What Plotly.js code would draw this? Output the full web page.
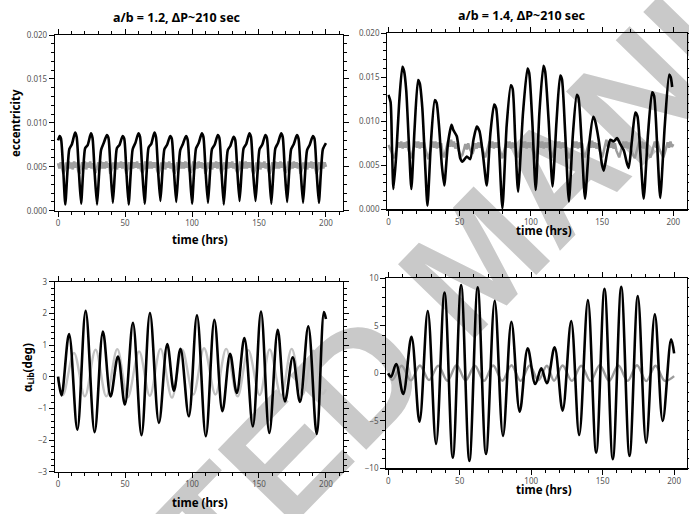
<!DOCTYPE html>
<html>
<head>
<meta charset="utf-8">
<script src="https://cdn.plot.ly/plotly-3.0.1.min.js"></script>
<style>html,body{margin:0;padding:0;background:#fff;}#chart{width:689px;height:514px;}</style>
</head>
<body>
<div id="chart"></div>
<script>
// ---------- Panel 1: a/b = 1.2, eccentricity ----------
const t1Black = [0,1.2,2.2,3.9,
 5.4,6.9,8.4,10.4,12.7,13.9,15.6,
 17.2,18.7,20.2,22.2,24.5,25.7,27.4,
 29.1,30.6,32.1,34.1,36.4,37.6,39.3,
 40.9,42.4,43.9,45.9,48.2,49.4,51.1,
 52.7,54.2,55.7,57.7,60.0,61.2,62.9,
 64.6,66.1,67.6,69.6,71.9,73.1,74.8,
 76.4,77.9,79.4,81.4,83.7,84.9,86.6,
 88.2,89.7,91.2,93.2,95.5,96.7,98.4,
 100.0,101.5,103.0,105.0,107.3,108.5,110.2,
 111.9,113.4,114.9,116.9,119.2,120.4,122.1,
 123.7,125.2,126.7,128.7,131.0,132.2,133.9,
 135.5,137.0,138.5,140.5,142.8,144.0,145.7,
 147.4,148.9,150.4,152.4,154.7,155.9,157.6,
 159.2,160.7,162.2,164.2,166.5,167.7,169.4,
 171.0,172.5,174.0,176.0,178.3,179.5,181.2,
 182.9,184.4,185.9,187.9,190.2,191.4,193.1,
 194.7,196.2,197.7,200.0];
const e1Black = [0.0080,0.0085,0.0082,0.0045,
 0.0007,0.0042,0.0070,0.0076,0.0089,0.0084,0.0043,
 0.0008,0.0044,0.0071,0.0075,0.0088,0.0083,0.0041,
 0.0007,0.0041,0.0069,0.0077,0.0086,0.0083,0.0043,
 0.0009,0.0043,0.0071,0.0075,0.0085,0.0082,0.0042,
 0.0007,0.0042,0.0070,0.0077,0.0088,0.0084,0.0044,
 0.0008,0.0043,0.0072,0.0076,0.0089,0.0084,0.0042,
 0.0011,0.0044,0.0070,0.0075,0.0085,0.0082,0.0043,
 0.0010,0.0042,0.0069,0.0076,0.0085,0.0081,0.0042,
 0.0008,0.0043,0.0071,0.0077,0.0088,0.0084,0.0043,
 0.0009,0.0042,0.0070,0.0075,0.0086,0.0083,0.0042,
 0.0007,0.0041,0.0069,0.0074,0.0084,0.0081,0.0043,
 0.0011,0.0044,0.0071,0.0076,0.0088,0.0084,0.0042,
 0.0011,0.0043,0.0070,0.0075,0.0086,0.0083,0.0043,
 0.0008,0.0042,0.0071,0.0077,0.0088,0.0084,0.0042,
 0.0010,0.0043,0.0070,0.0076,0.0086,0.0082,0.0043,
 0.0009,0.0042,0.0069,0.0075,0.0085,0.0082,0.0042,
 0.0009,0.0043,0.0070,0.0077];
// gray series, one value per hour from t = 0
const e1Gray = [
 0.0054,0.0048,0.0055,0.0047,0.0042,0.0047,0.0055,0.0048,0.0056,0.0048,
 0.0055,0.0047,0.0056,0.0049,0.0055,0.0046,0.0042,0.0048,0.0055,0.0048,
 0.0056,0.0047,0.0055,0.0049,0.0056,0.0048,0.0054,0.0046,0.0043,0.0048,
 0.0055,0.0047,0.0056,0.0048,0.0055,0.0048,0.0056,0.0049,0.0054,0.0042,
 0.0047,0.0055,0.0048,0.0056,0.0047,0.0055,0.0049,0.0056,0.0048,0.0055,
 0.0046,0.0042,0.0048,0.0055,0.0047,0.0056,0.0048,0.0055,0.0049,0.0056,
 0.0048,0.0054,0.0046,0.0043,0.0048,0.0056,0.0047,0.0055,0.0048,0.0056,
 0.0048,0.0055,0.0049,0.0055,0.0046,0.0042,0.0047,0.0055,0.0048,0.0056,
 0.0047,0.0055,0.0049,0.0056,0.0048,0.0054,0.0046,0.0042,0.0048,0.0055,
 0.0047,0.0056,0.0048,0.0055,0.0048,0.0056,0.0049,0.0055,0.0046,0.0043,
 0.0048,0.0056,0.0047,0.0055,0.0048,0.0056,0.0049,0.0055,0.0048,0.0054,
 0.0042,0.0047,0.0055,0.0048,0.0056,0.0047,0.0055,0.0049,0.0056,0.0048,
 0.0055,0.0046,0.0042,0.0048,0.0055,0.0047,0.0056,0.0048,0.0055,0.0049,
 0.0056,0.0048,0.0054,0.0046,0.0043,0.0048,0.0056,0.0047,0.0055,0.0048,
 0.0056,0.0048,0.0055,0.0049,0.0055,0.0046,0.0042,0.0047,0.0055,0.0048,
 0.0056,0.0047,0.0055,0.0049,0.0056,0.0048,0.0054,0.0046,0.0042,0.0048,
 0.0055,0.0047,0.0056,0.0048,0.0055,0.0048,0.0056,0.0049,0.0055,0.0046,
 0.0043,0.0048,0.0056,0.0047,0.0055,0.0048,0.0056,0.0049,0.0055,0.0048,
 0.0054,0.0042,0.0047,0.0055,0.0048,0.0056,0.0047,0.0055,0.0049,0.0056,
 0.0048,0.0055,0.0046,0.0042,0.0048,0.0055,0.0047,0.0056,0.0048,0.0055,
 0.0050];

// ---------- Panel 2: a/b = 1.4, eccentricity ----------
const t2Black = [0,1.5,2.5,3.5,5.5,7.5,9.8,11.0,12.5,14.5,16.1,
 18.3,20.8,22.0,23.8,25.8,27.4,
 29.8,32.5,33.8,35.5,37.5,39.2,
 41.8,44.3,45.6,48.0,50.4,52.0,55.0,57.4,59.7,62.0,63.9,66.5,69.0,
 71.5,74.2,75.6,77.5,80.0,
 83.0,85.9,87.2,89.0,91.0,
 94.5,97.6,98.8,101.0,103.4,
 106.0,108.8,110.0,112.5,115.2,
 118.0,120.6,121.8,124.0,126.7,
 129.5,132.2,133.4,135.5,138.0,
 141.0,143.8,145.0,147.6,150.0,151.2,153.5,155.8,158.1,160.5,162.8,165.2,167.5,168.7,
 171.0,173.3,174.8,177.0,179.2,
 182.2,185.1,186.5,188.6,190.8,
 194.0,197.1,198.2,199.2];
const e2Black = [0.0130,0.0122,0.0070,0.0023,0.0062,0.0120,0.0162,0.0157,0.0135,0.0070,0.0023,
 0.0090,0.0147,0.0143,0.0115,0.0050,0.0004,
 0.0075,0.0124,0.0121,0.0095,0.0050,0.0027,
 0.0075,0.0096,0.0090,0.0083,0.0058,0.0054,0.0060,0.0057,0.0079,0.0094,0.0089,0.0060,0.0027,
 0.0085,0.0119,0.0115,0.0075,0.0001,
 0.0095,0.0141,0.0137,0.0080,0.0020,
 0.0110,0.0160,0.0155,0.0100,0.0022,
 0.0110,0.0163,0.0157,0.0100,0.0026,
 0.0100,0.0152,0.0148,0.0090,0.0009,
 0.0085,0.0130,0.0127,0.0080,0.0012,
 0.0075,0.0105,0.0101,0.0079,0.0050,0.0044,0.0064,0.0079,0.0077,0.0081,0.0074,0.0067,0.0052,0.0047,
 0.0079,0.0110,0.0106,0.0060,0.0012,
 0.0085,0.0133,0.0129,0.0075,0.0013,
 0.0095,0.0153,0.0150,0.0139];
// gray series, one value per hour from t = 0
const e2Gray = [
 0.0073,0.0070,0.0066,0.0061,0.0058,0.0064,0.0071,0.0076,0.0070,0.0077,
 0.0069,0.0076,0.0070,0.0077,0.0068,0.0063,0.0058,0.0065,0.0072,0.0077,
 0.0070,0.0077,0.0069,0.0076,0.0070,0.0076,0.0068,0.0062,0.0057,0.0064,
 0.0071,0.0077,0.0070,0.0077,0.0069,0.0076,0.0070,0.0075,0.0064,0.0059,
 0.0065,0.0072,0.0078,0.0071,0.0079,0.0071,0.0077,0.0069,0.0075,0.0068,
 0.0063,0.0060,0.0062,0.0068,0.0074,0.0068,0.0075,0.0069,0.0066,0.0063,
 0.0068,0.0075,0.0069,0.0076,0.0070,0.0076,0.0068,0.0063,0.0059,0.0065,
 0.0072,0.0077,0.0070,0.0077,0.0069,0.0076,0.0070,0.0076,0.0068,0.0062,
 0.0058,0.0065,0.0071,0.0077,0.0070,0.0077,0.0069,0.0076,0.0070,0.0075,
 0.0064,0.0059,0.0065,0.0072,0.0077,0.0070,0.0077,0.0069,0.0076,0.0070,
 0.0076,0.0068,0.0063,0.0058,0.0065,0.0071,0.0077,0.0070,0.0077,0.0069,
 0.0076,0.0070,0.0076,0.0068,0.0063,0.0059,0.0065,0.0072,0.0077,0.0070,
 0.0077,0.0069,0.0076,0.0070,0.0076,0.0068,0.0063,0.0058,0.0064,0.0071,
 0.0077,0.0070,0.0077,0.0069,0.0076,0.0070,0.0075,0.0064,0.0059,0.0065,
 0.0072,0.0077,0.0070,0.0078,0.0070,0.0076,0.0069,0.0075,0.0068,0.0063,
 0.0059,0.0065,0.0072,0.0079,0.0071,0.0078,0.0070,0.0076,0.0069,0.0075,
 0.0067,0.0063,0.0059,0.0065,0.0071,0.0077,0.0070,0.0077,0.0069,0.0076,
 0.0069,0.0064,0.0061,0.0058,0.0064,0.0071,0.0077,0.0070,0.0077,0.0069,
 0.0076,0.0068,0.0063,0.0061,0.0059,0.0065,0.0072,0.0077,0.0070,0.0077,
 0.0069,0.0065,0.0061,0.0059,0.0064,0.0071,0.0076,0.0070,0.0077,0.0071,
 0.0074];

// ---------- Panel 3: a/b = 1.2, libration angle ----------
const t3Black = [0,2.6,8.2,14.4,20.6,27.3,33.5,39.2,44.7,49.9,55.9,62.3,68.6,75.3,81.5,86.5,91.4,97.6,103.7,110.3,116.7,122.7,128.4,133.4,139.1,145.4,151.5,157.7,164.0,169.4,175.2,180.6,186.8,193.1,198.5,200];
const a3Black = [0,-0.59,1.35,-1.67,2.08,-1.75,1.43,-0.62,0.64,-0.88,1.70,-1.85,2.01,-1.46,1.03,-0.44,0.88,-1.25,1.94,-1.88,1.80,-1.09,0.72,-0.51,1.22,-1.57,2.06,-1.78,1.48,-0.78,0.61,-0.80,1.59,-1.81,2.04,1.82];
const t3Gray = [0,3.7,11.9,20.0,28.0,36.0,44.2,52.0,60.5,68.5,76.5,85.0,92.7,101.0,109.0,117.5,125.5,134.0,142.0,150.5,158.0,166.5,174.4,182.5,190.5,197.5,200];
const a3Gray = [0.0,-0.58,0.75,-0.62,0.85,-0.62,0.87,-0.65,0.80,-0.60,0.88,-0.66,0.85,-0.56,0.90,-0.56,0.88,-0.62,0.84,-0.58,0.86,-0.60,0.88,-0.56,0.82,-0.55,-0.40];

// ---------- Panel 4: a/b = 1.4, libration angle ----------
const t4Black = [0,2.0,5.6,10.5,16.3,21.9,27.7,33.5,39.4,45.2,51.0,56.8,62.6,68.4,74.5,80.3,86.2,92.0,97.6,102.9,107.1,111.0,116.4,122.0,128.0,133.6,139.7,145.5,151.3,157.1,163.0,168.8,174.6,180.4,186.5,192.0,197.9,200];
const a4Black = [0,-0.36,0.98,-2.18,3.85,-5.1,6.56,-7.44,8.5,-8.88,9.3,-9.23,9.05,-8.5,7.64,-6.6,5.43,-4.04,2.63,-1.13,0.52,-1.05,2.73,-3.93,5.5,-6.5,7.7,-8.35,8.9,-9.05,9.1,-8.7,8.14,-7.3,6.2,-5.02,3.58,2.1];
const t4Gray = [0,3.0,9.4,15.8,22.2,28.6,35.0,41.4,47.8,54.2,60.6,67.0,73.4,79.8,86.2,92.6,99.0,105.0,111.0,116.0,122.0,128.5,135.0,141.5,148.0,154.5,161.0,167.5,174.0,180.5,187.0,193.5,200];
const a4Gray = [0,-0.70,0.80,-0.75,0.82,-0.72,0.80,-0.78,0.85,-0.75,0.80,-0.80,0.82,-0.78,0.85,-0.80,0.82,-0.75,0.80,-0.78,0.82,-0.80,0.80,-0.82,0.85,-0.80,0.82,-0.80,0.85,-0.82,0.80,-0.80,-0.30];

const xTicks = [0,50,100,150,200];
const panelTitles = ["a/b = 1.2, \u0394P~210 sec", "a/b = 1.4, \u0394P~210 sec"];
const xTitle = "time (hrs)";
const yTitles = ["eccentricity", "\u03b1<sub>Lib</sub>(deg)"];
const watermark = "ACCEPTED MANUSCRIPT";

const FONT = "Noto Sans, Open Sans, DejaVu Sans, sans-serif";

function baseAxis(extra) {
  return Object.assign({
    showline: true, linecolor: '#000', linewidth: 1.2, mirror: 'allticks',
    ticks: 'outside', ticklen: 5, tickwidth: 1, tickcolor: '#000',
    showgrid: false, zeroline: false, fixedrange: true,
    tickfont: {family: FONT, size: 8, color: '#555'}
  }, extra);
}
function xAxis(domain, range, anchor) {
  return baseAxis({domain: domain, range: range, anchor: anchor,
    tickmode: 'array', tickvals: xTicks,
    minor: {ticks: 'outside', dtick: 10, ticklen: 3, tickwidth: 1, tickcolor: '#000', showgrid: false}});
}
function yAxis(domain, range, anchor, dtick, minorDtick, fmt) {
  const a = baseAxis({domain: domain, range: range, anchor: anchor,
    tick0: range[0], dtick: dtick,
    minor: {ticks: 'outside', dtick: minorDtick, ticklen: 3, tickwidth: 1, tickcolor: '#000', showgrid: false}});
  if (fmt) a.tickformat = fmt;
  return a;
}

const lineBlack = {color: '#000', width: 2.6};
const traces = [
  {x0: 0, dx: 1, y: e1Gray, xaxis: 'x', yaxis: 'y', mode: 'lines', line: {color: '#a0a0a0', width: 2.6}, hoverinfo: 'skip'},
  {x: t1Black, y: e1Black, xaxis: 'x', yaxis: 'y', mode: 'lines', line: Object.assign({shape: 'spline', smoothing: 0.6}, lineBlack), hoverinfo: 'skip'},
  {x0: 0, dx: 1, y: e2Gray, xaxis: 'x2', yaxis: 'y2', mode: 'lines', line: {color: '#9c9c9c', width: 2.5}, hoverinfo: 'skip'},
  {x: t2Black, y: e2Black, xaxis: 'x2', yaxis: 'y2', mode: 'lines', line: Object.assign({shape: 'spline', smoothing: 0.6}, lineBlack), hoverinfo: 'skip'},
  {x: t3Gray, y: a3Gray, xaxis: 'x3', yaxis: 'y3', mode: 'lines', line: {color: '#c2c2c2', width: 2.4, shape: 'spline', smoothing: 1}, hoverinfo: 'skip'},
  {x: t3Black, y: a3Black, xaxis: 'x3', yaxis: 'y3', mode: 'lines', line: Object.assign({shape: 'spline', smoothing: 1}, lineBlack), hoverinfo: 'skip'},
  {x: t4Gray, y: a4Gray, xaxis: 'x4', yaxis: 'y4', mode: 'lines', line: {color: '#9c9c9c', width: 2.4, shape: 'spline', smoothing: 1}, hoverinfo: 'skip'},
  {x: t4Black, y: a4Black, xaxis: 'x4', yaxis: 'y4', mode: 'lines', line: Object.assign({shape: 'spline', smoothing: 1}, lineBlack), hoverinfo: 'skip'}
];

const titleFont = {family: FONT, size: 12.5, color: '#000', weight: 'bold'};
const axTitleFont = {family: FONT, size: 11.5, color: '#000', weight: 'bold'};
function ann(text, x, y, font, angle) {
  return {text: text, x: x, y: y, xref: 'paper', yref: 'paper', showarrow: false,
    xanchor: 'center', yanchor: 'middle', font: font, textangle: angle || 0};
}

const layout = {
  width: 689, height: 514, autosize: false,
  margin: {l: 0, r: 0, t: 0, b: 0, pad: 0},
  paper_bgcolor: '#fff', plot_bgcolor: 'rgba(0,0,0,0)',
  showlegend: false,
  xaxis: xAxis([0.0798, 0.4978], [-2.3, 212.7], 'y'),
  yaxis: yAxis([0.5901, 0.9319], [0, 0.02], 'x', 0.005, 0.001, '.3f'),
  xaxis2: xAxis([0.5621, 0.9975], [-0.8, 209.8], 'y2'),
  yaxis2: yAxis([0.5928, 0.9352], [0, 0.02], 'x2', 0.005, 0.001, '.3f'),
  xaxis3: xAxis([0.0798, 0.4978], [-2.3, 212.7], 'y3'),
  yaxis3: yAxis([0.0823, 0.4519], [-3, 3], 'x3', 1, 0.2),
  xaxis4: xAxis([0.5607, 0.9971], [-1.3, 209], 'y4'),
  yaxis4: yAxis([0.0889, 0.4586], [-10, 10], 'x4', 5, 1),
  annotations: [
    ann(panelTitles[0], 0.2569, 0.9669, titleFont),
    ann(panelTitles[1], 0.7576, 0.9708, titleFont),
    ann(xTitle, 0.2903, 0.5331, axTitleFont),
    ann(xTitle, 0.7896, 0.5525, axTitleFont),
    ann(xTitle, 0.2903, 0.0233, axTitleFont),
    ann(xTitle, 0.7896, 0.0486, axTitleFont),
    ann(yTitles[0], 0.0218, 0.7607, axTitleFont, -90),
    ann(yTitles[1], 0.0406, 0.2860, axTitleFont, -90)
  ],
  shapes: [{
    type: 'line', xref: 'paper', yref: 'paper', layer: 'below',
    x0: 0.373, y0: 0.0973, x1: 0.9797, y1: 0.9339,
    line: {color: 'rgba(0,0,0,0)', width: 0},
    label: {text: watermark, textangle: 'auto', textposition: 'middle',
      xanchor: 'center', yanchor: 'middle',
      font: {family: 'Liberation Sans, Arial, sans-serif', size: 155, color: '#c9c9c9', weight: 'bold'}}
  }]
};

Plotly.newPlot('chart', traces, layout, {staticPlot: true, displayModeBar: false});
</script>
</body>
</html>
